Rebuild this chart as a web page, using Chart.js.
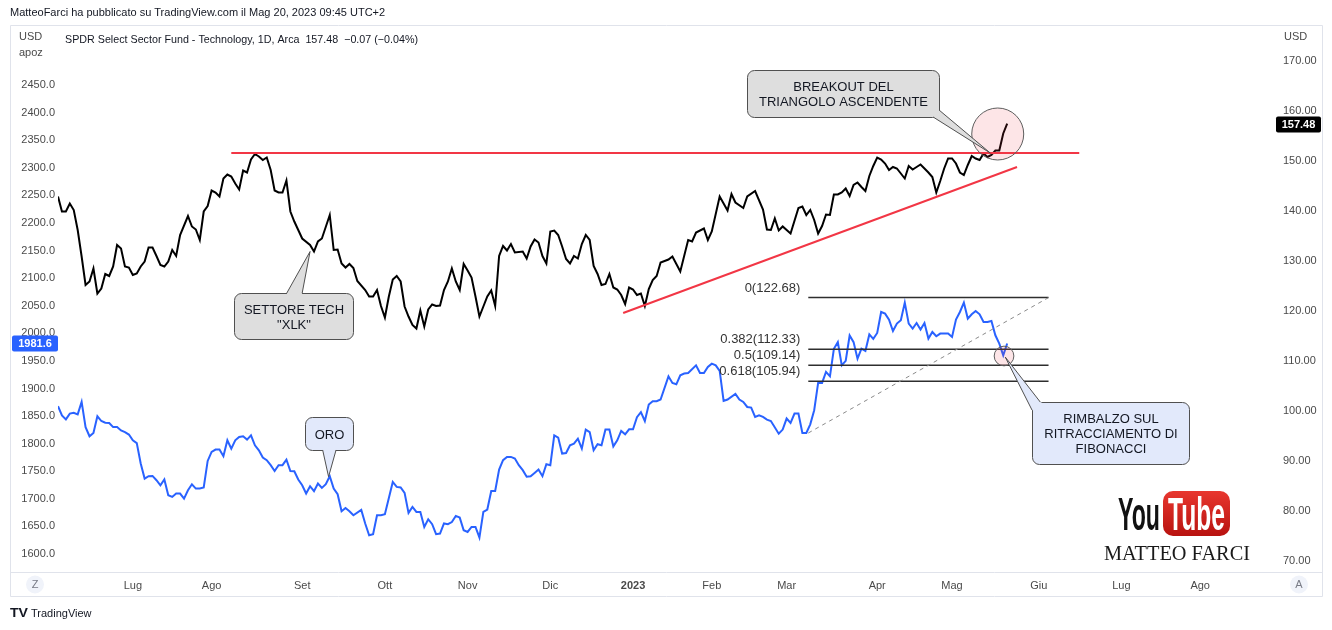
<!DOCTYPE html>
<html>
<head>
<meta charset="utf-8">
<script src="https://cdn.jsdelivr.net/npm/chart.js@4.4.0/dist/chart.umd.min.js"></script>
<style>
  html, body { margin: 0; padding: 0; background: #fff; }
  #wrap { width: 1332px; height: 630px; }
</style>
</head>
<body>
<div id="wrap"><canvas id="myChart" width="1332" height="630"></canvas></div>
<script>
// sessions counted from the first bar on the chart (early June 2022)
const xlkBars = [0,1,2,3,4,5,6,7,8,9,10,11,12,13,14,15,16,17,18,19,20,21,22,23,24,25,26,27,28,29,30,31,
  33,34,35,36,37,38,39,40,41,42,43,44,45,46,47,48,49,50,51,52,53,54,55,56,57,58,59,60,61,62,
  64,65,66,67,
  69,70,71,72,73,74,75,76,
  78,79,80,81,82,83,84,85,86,87,88,89,90,91,92,93,94,95,96,97,98,99,100,101,102,103,104,105,106,107,108,109,110,111,112,113,114,115,116,
  118,119,120,121,122,123,124,125,126,127,128,129,130,131,132,133,134,135,136,137,138,139,140,141,142,143,144,145,146,147,148,149,150,151,152,153,
  155,156,158,160,161,162,164,165,166,168,170,171,172,174,175,177,179,180,181,182,183,184,186,
  188,189,190,191,192,193,194,195,196,197,198,199,200,201,202,203,204,205,206,207,208,209,210,211,212,213,214,215,216,217,218,219,220,221,
  222,223,224,225,226,227,228,229,230,231,232,233,234,235,236,237,238,239,240,241];
const xlkClose = [142.9,139.9,139.9,141.5,140.2,136.2,130.9,125.2,125.9,128.5,123.5,124.5,127.4,127.0,128.9,133.2,132.5,128.9,128.7,127.2,127.5,128.9,129.9,132.7,132.7,131.0,129.2,128.9,129.9,132.2,131.0,135.2,
  139.0,136.9,136.3,134.2,139.9,141.0,144.1,143.7,142.9,146.5,147.3,146.9,145.5,144.3,148.1,147.7,150.3,151.4,150.9,150.2,150.7,148.2,144.1,143.7,143.7,146.1,139.9,137.9,136.2,134.5,
  133.2,131.9,133.9,134.5,
  139.2,132.2,132.3,129.5,128.7,129.4,128.6,126.0,
  124.2,122.9,122.9,124.2,121.0,118.7,122.9,126.3,127.0,125.9,120.9,118.9,117.2,116.5,120.1,116.9,120.3,121.3,121.0,121.1,124.2,125.9,128.5,125.9,124.2,129.4,128.1,126.7,122.9,118.9,120.9,122.9,124.1,121.0,131.0,133.0,132.1,133.4,131.7,
  131.9,130.5,132.9,134.3,133.7,131.0,129.5,135.9,136.1,135.2,132.9,130.4,129.5,131.0,130.5,133.4,135.2,134.2,129.0,127.4,125.2,125.4,127.4,124.7,124.3,123.2,121.4,124.7,124.3,123.2,123.5,121.0,124.4,126.2,127.0,129.7,
  130.3,130.9,127.9,134.2,133.9,135.7,136.5,134.2,135.9,142.9,140.1,143.4,141.7,140.6,142.9,144.0,140.3,136.3,136.2,138.5,136.1,136.9,135.5,
  140.6,140.9,139.2,140.2,138.2,135.5,137.0,139.3,139.2,143.3,143.3,143.7,144.5,143.0,145.2,145.7,144.8,144.0,147.0,149.0,150.7,150.3,149.5,148.2,148.8,148.5,147.5,146.5,149.0,148.3,148.8,149.3,148.5,147.7,
  146.8,143.7,146.0,148.5,150.5,150.5,149.5,147.7,147.2,149.2,151.0,150.5,150.2,151.5,150.8,151.2,152.1,152.1,155.5,157.48];

const goldBars = [0,1,2,3,4,5,6,7,8,9,10,11,12,13,14,15,16,17,18,19,20,21,22,23,24,25,26,27,28,29,30,31,32,33,34,35,36,37,38,39,
  40,41,42,43,44,45,46,47,48,49,50,51,52,53,54,55,56,57,58,59,60,61,62,63,64,65,66,67,68,69,70,71,72,73,74,75,
  77,78,79,80,81,82,83,
  85,86,87,88,89,90,91,92,93,94,95,96,97,98,99,100,101,102,103,104,105,106,107,108,109,110,111,112,113,114,115,116,117,118,119,
  120,121,122,123,124,125,126,127,128,129,130,131,132,133,134,135,136,137,138,139,140,141,142,143,144,145,146,147,148,149,150,151,152,153,
  155,156,157,158,159,160,
  162,163,164,165,166,167,168,169,170,
  172,173,174,175,176,177,178,179,180,181,
  183,184,185,186,187,188,189,190,191,192,193,194,195,196,197,198,199,200,201,202,203,204,205,206,207,208,209,210,211,212,213,214,215,216,217,218,219,220,221,222,223,224,
  226,227,228,229,230,231,232,233,234,235,236,237,238,239,240,241];
const goldClose = [1868,1851,1844,1854.5,1856,1853,1875.6,1830,1813.4,1819.4,1849.6,1841,1838,1837.5,1830,1830,1824,1821,1816.5,1806,
  1801,1764,1736.7,1741,1741.5,1733.7,1724.6,1735,1706.5,1703.4,1709.6,1709.6,1700.5,1715.6,1726.4,1718.6,1718.6,1720.5,1768.7,1785,
  1789.3,1789.3,1777.2,1806.2,1791,1806,1812,1813.4,1807.4,1815,1797,1788,1774.8,1770,1761,1750.5,1761,1761,1771,1750.5,
  1750,1735,1724.6,1709.6,1722.8,1713.8,1727.7,1719.8,1726.4,1741,1718.6,1708.3,1677.5,1683.5,1677.5,1670.3,
  1680,1655.3,1634,1636,1670.3,1670.3,1672,
  1730.6,1721.6,1720.5,1710.7,1674.5,1685.3,1676.3,1676.3,1649,1663,1654,1636,1637,1655.3,1654,1658,1669,1666,1643,1640,1649,1649,1630,1676.3,1680.6,1714.3,1714.3,1753,1770,1776,1776,1773,1761,1752,1740,
  1741,1747,1753,1741,1762.7,1761,1815,1811,1782,1783,1797,1800,1809,1791,1825.5,1821,1788,1799,1797,1825.5,1825.5,1795,1806,1823,1817,1826,1826,1848,1857,1841,1871,1877,1877,1880,
  1922,1910,1907.6,1924,1927,1928,
  1942,1928,1928,1939,1945,1942,1932,1877.4,1880,
  1890,1880,1875.6,1866.5,1865.4,1848.4,1851.4,1848.4,1843.6,1841,
  1818,1825.5,1845.5,1837.5,1854.5,1854.5,1819.4,1819.4,1835,1860.5,1910,1910,1930,1922,1972,1984,1942,1950,1996,1984,1954,1972,1968,1998,1990,2000.6,2038.6,2035.7,2024.8,2004,2017.6,2023.6,2055.6,2017.6,2008.5,2018.7,2006.7,2018.7,1990.4,2002.4,1994.6,1999.5,
  1999.5,1993.3,2024.8,2038.6,2055.6,2026.6,2034.4,2040.4,2034.4,2020.5,2020.5,2022.3,1996.4,1981.3,1960,1981.6];

const monthTicks = [19, 39, 62, 83, 104, 125, 146, 166, 185, 208, 227, 249, 270, 290];
const monthLabels = ['Lug', 'Ago', 'Set', 'Ott', 'Nov', 'Dic', '2023', 'Feb', 'Mar', 'Apr', 'Mag', 'Giu', 'Lug', 'Ago'];
const leftTicks = [1600, 1650, 1700, 1750, 1800, 1850, 1900, 1950, 2000, 2050, 2100, 2150, 2200, 2250, 2300, 2350, 2400, 2450];
const rightTicks = [70, 80, 90, 100, 110, 120, 130, 140, 150, 160, 170];

// drawings, in (session, price) units
const resistance = [[44.0, 151.6], [259.3, 151.6]];
const trendline = [[143.5, 119.6], [243.5, 148.8]];
const fibRange = [190.5, 251.5];
const fibLabels = ['0', '0.382', '0.5', '0.618'];
const fibValues = [122.68, 112.33, 109.14, 105.94];
const fibDiagonal = [[190.5, 95.6], [251.5, 122.68]];
const circles = [{ x: 238.6, y: 155.4, r: 6.6 }, { x: 240.2, y: 111.0, r: 2.5 }];
const callouts = [
  { axis: 'yR', lines: ['BREAKOUT DEL', 'TRIANGOLO ASCENDENTE'], fill: '#dedede',
    box: [175.0, 223.7, 168.2, 158.8], base: [[222.2, 158.8], [223.7, 160.2]], tip: [236.7, 151.6] },
  { axis: 'yR', lines: ['SETTORE TECH', '"XLK"'], fill: '#dedede',
    box: [44.7, 74.9, 123.6, 114.4], base: [[58.1, 123.6], [62.0, 123.6]], tip: [64.0, 131.9] },
  { axis: 'yL', lines: ['ORO'], fill: '#e2e9fb',
    box: [62.7, 74.9, 1848.3, 1788.5], base: [[67.2, 1788.5], [70.6, 1788.5]], tip: [68.7, 1740.1] },
  { axis: 'yR', lines: ['RIMBALZO SUL', 'RITRACCIAMENTO DI', 'FIBONACCI'], fill: '#e2e9fb',
    box: [247.3, 287.2, 101.8, 89.4], base: [[249.4, 101.8], [247.3, 100.2]], tip: [240.5, 110.8] }
];
const lastXlk = 157.48;
const lastGold = 1981.6;

const FONT = '"Liberation Sans", Arial, sans-serif';
const TXT = '#131722';
Chart.defaults.font.family = FONT;

const toPoints = (xs, ys) => xs.map((x, i) => ({ x: x, y: ys[i] }));
const segment = pts => pts.map(p => ({ x: p[0], y: p[1] }));
const drawLine = (pts, color, width, dash) => ({
  data: segment(pts), yAxisID: 'yR', borderColor: color, borderWidth: width,
  borderDash: dash || [], pointRadius: 0, order: 0
});

const datasets = [
  { label: 'XLK', data: toPoints(xlkBars, xlkClose), yAxisID: 'yR', borderColor: '#000', borderWidth: 2, pointRadius: 0, order: 1 },
  { label: 'Oro', data: toPoints(goldBars, goldClose), yAxisID: 'yL', borderColor: '#2962ff', borderWidth: 2, pointRadius: 0, order: 1 },
  drawLine(resistance, '#f23645', 2),
  drawLine(trendline, '#f23645', 2),
  drawLine(fibDiagonal, '#8a8a8a', 1, [4, 4])
];
fibValues.forEach(v => datasets.push(drawLine([[fibRange[0], v], [fibRange[1], v]], '#2e2e2e', 1.5)));

function textFit(ctx, str, x, y, font, width) {
  ctx.save();
  ctx.font = font;
  const w = ctx.measureText(str).width;
  ctx.translate(x, y);
  ctx.scale(width / w, 1);
  ctx.fillText(str, 0, 0);
  ctx.restore();
}

function drawCallout(ctx, c, xs, ys) {
  const X = v => xs.getPixelForValue(v), Y = v => ys.getPixelForValue(v);
  const x1 = Math.round(X(c.box[0])) + 0.5, x2 = Math.round(X(c.box[1])) + 0.5;
  const y1 = Math.round(Y(c.box[2])) + 0.5, y2 = Math.round(Y(c.box[3])) + 0.5;
  const b = c.base.map(p => [X(p[0]), Y(p[1])]);
  const t = [X(c.tip[0]), Y(c.tip[1])];
  ctx.save();
  ctx.fillStyle = c.fill;
  ctx.strokeStyle = '#505050';
  ctx.lineWidth = 1;
  ctx.beginPath();
  ctx.roundRect(x1, y1, x2 - x1, y2 - y1, 7);
  ctx.fill();
  ctx.stroke();
  const cx = (x1 + x2) / 2, cy = (y1 + y2) / 2;
  const inner = b.map(p => {
    const dx = cx - p[0], dy = cy - p[1], d = Math.hypot(dx, dy);
    return [p[0] + dx / d * 3, p[1] + dy / d * 3];
  });
  ctx.beginPath();
  ctx.moveTo(inner[0][0], inner[0][1]);
  ctx.lineTo(b[0][0], b[0][1]);
  ctx.lineTo(t[0], t[1]);
  ctx.lineTo(b[1][0], b[1][1]);
  ctx.lineTo(inner[1][0], inner[1][1]);
  ctx.closePath();
  ctx.fill();
  ctx.beginPath();
  ctx.moveTo(b[0][0], b[0][1]);
  ctx.lineTo(t[0], t[1]);
  ctx.lineTo(b[1][0], b[1][1]);
  ctx.stroke();
  ctx.fillStyle = TXT;
  ctx.font = '13px ' + FONT;
  ctx.textAlign = 'center';
  ctx.textBaseline = 'middle';
  const lh = 15;
  c.lines.forEach((s, i) => ctx.fillText(s, cx, cy + (i - (c.lines.length - 1) / 2) * lh + 1));
  ctx.restore();
}

const tvDrawings = {
  id: 'tvDrawings',
  beforeDraw(chart) {
    const ctx = chart.ctx;
    ctx.save();
    ctx.fillStyle = '#fff';
    ctx.fillRect(0, 0, chart.width, chart.height);
    ctx.restore();
  },
  afterDatasetsDraw(chart) {
    const ctx = chart.ctx, xs = chart.scales.x, yR = chart.scales.yR;
    const a = chart.chartArea;
    ctx.save();
    ctx.beginPath();
    ctx.rect(a.left, a.top, a.right - a.left, a.bottom - a.top);
    ctx.clip();
    // circles
    circles.forEach(c => {
      const r = xs.getPixelForValue(c.x + c.r) - xs.getPixelForValue(c.x);
      ctx.beginPath();
      ctx.arc(xs.getPixelForValue(c.x), yR.getPixelForValue(c.y), r, 0, Math.PI * 2);
      ctx.fillStyle = 'rgba(242, 54, 69, 0.13)';
      ctx.fill();
      ctx.strokeStyle = '#5e5e5e';
      ctx.lineWidth = 1;
      ctx.stroke();
    });
    // fib labels
    ctx.fillStyle = '#333';
    ctx.font = '13px ' + FONT;
    ctx.textAlign = 'right';
    ctx.textBaseline = 'bottom';
    fibValues.forEach((v, i) => {
      ctx.fillText(fibLabels[i] + '(' + v.toFixed(2) + ')', xs.getPixelForValue(fibRange[0]) - 8, yR.getPixelForValue(v) - 3);
    });
    callouts.forEach(c => drawCallout(ctx, c, xs, chart.scales[c.axis]));
    ctx.restore();
  },
  afterDraw(chart) {
    const ctx = chart.ctx, yR = chart.scales.yR, yL = chart.scales.yL;
    ctx.save();
    // pane frame
    ctx.strokeStyle = '#e0e3eb';
    ctx.lineWidth = 1;
    ctx.beginPath();
    ctx.moveTo(10.5, 25.5); ctx.lineTo(1322.5, 25.5);
    ctx.moveTo(10.5, 25.5); ctx.lineTo(10.5, 596.5);
    ctx.moveTo(1322.5, 25.5); ctx.lineTo(1322.5, 596.5);
    ctx.moveTo(10.5, 572.5); ctx.lineTo(1322.5, 572.5);
    ctx.moveTo(10.5, 596.5); ctx.lineTo(1322.5, 596.5);
    ctx.stroke();

    ctx.fillStyle = TXT;
    ctx.textBaseline = 'middle';
    ctx.textAlign = 'left';
    ctx.font = '11px ' + FONT;
    ctx.fillText('MatteoFarci ha pubblicato su TradingView.com il Mag 20, 2023 09:45 UTC+2', 10, 13);
    textFit(ctx, 'SPDR Select Sector Fund - Technology, 1D, Arca  157.48  \u22120.07 (\u22120.04%)', 65, 40, '11px ' + FONT, 353);
    ctx.fillStyle = '#4a4a4a';
    ctx.fillText('USD', 19, 37);
    ctx.fillText('apoz', 19, 53);
    ctx.fillText('USD', 1284, 37);

    // last price tags
    const tag = (x, w, y, bg, s) => {
      ctx.fillStyle = bg;
      ctx.beginPath();
      ctx.roundRect(x, Math.round(y) - 7.5, w, 16, 2);
      ctx.fill();
      ctx.fillStyle = '#fff';
      ctx.textAlign = 'center';
      ctx.font = 'bold 11px ' + FONT;
      ctx.fillText(s, x + w / 2, Math.round(y) + 0.5);
    };
    tag(1276, 45, yR.getPixelForValue(lastXlk), '#000', lastXlk.toFixed(2));
    tag(12, 46, yL.getPixelForValue(lastGold), '#2962ff', lastGold.toFixed(1));

    // Z / A buttons
    [[35, 'Z'], [1299, 'A']].forEach(b => {
      ctx.beginPath();
      ctx.arc(b[0], 584.5, 9, 0, Math.PI * 2);
      ctx.fillStyle = '#f0f3fa';
      ctx.fill();
      ctx.fillStyle = '#787b86';
      ctx.font = '11px ' + FONT;
      ctx.textAlign = 'center';
      ctx.fillText(b[1], b[0], 585);
    });

    // footer
    ctx.textAlign = 'left';
    ctx.fillStyle = TXT;
    textFit(ctx, 'TV', 10, 614, 'bold 12px ' + FONT, 18);
    ctx.font = '11px ' + FONT;
    ctx.fillText('TradingView', 31, 614);

    // YouTube mark
    ctx.textBaseline = 'alphabetic';
    ctx.fillStyle = '#111';
    textFit(ctx, 'You', 1118, 530, 'bold 46px ' + FONT, 42);
    const g = ctx.createLinearGradient(0, 491, 0, 536);
    g.addColorStop(0, '#e8372f');
    g.addColorStop(1, '#b8120f');
    ctx.fillStyle = g;
    ctx.beginPath();
    ctx.roundRect(1163, 491, 67, 45, 10);
    ctx.fill();
    ctx.fillStyle = '#fff';
    textFit(ctx, 'Tube', 1168, 530, 'bold 46px ' + FONT, 57);
    ctx.fillStyle = '#1a1a1a';
    textFit(ctx, 'MATTEO FARCI', 1104, 560, '21px "Liberation Serif", "DejaVu Serif", serif', 146);
    ctx.restore();
  }
};

const ctx = document.getElementById('myChart').getContext('2d');
const myChart = new Chart(ctx, {
  type: 'line',
  data: { datasets: datasets },
  options: {
    responsive: false,
    devicePixelRatio: 1,
    animation: false,
    events: [],
    layout: { padding: { left: 10, right: 9, top: 25, bottom: 34 } },
    elements: { line: { tension: 0 } },
    plugins: { legend: { display: false }, tooltip: { enabled: false } },
    scales: {
      x: {
        type: 'linear', position: 'bottom', min: 0, max: 309,
        grid: { display: false, drawTicks: false }, border: { display: false },
        afterBuildTicks: s => { s.ticks = monthTicks.map(v => ({ value: v })); },
        afterFit: s => { s.height = 24; },
        ticks: {
          autoSkip: false, maxRotation: 0, padding: 7, color: '#4a4a4a',
          font: c => ({ size: 11, weight: c.tick && c.tick.label === '2023' ? 'bold' : 'normal' }),
          callback: v => monthLabels[monthTicks.indexOf(v)]
        }
      },
      yL: {
        type: 'linear', position: 'left', min: 1567.4, max: 2558.7,
        grid: { display: false, drawTicks: false }, border: { display: false },
        afterBuildTicks: s => { s.ticks = leftTicks.map(v => ({ value: v })); },
        afterFit: s => { s.width = 48; },
        ticks: { padding: 3, color: '#4a4a4a', font: { size: 11 }, callback: v => v.toFixed(1) }
      },
      yR: {
        type: 'linear', position: 'right', min: 67.8, max: 177.2,
        grid: { display: false, drawTicks: false }, border: { display: false },
        afterBuildTicks: s => { s.ticks = rightTicks.map(v => ({ value: v })); },
        afterFit: s => { s.width = 48; },
        ticks: { padding: 8, color: '#4a4a4a', font: { size: 11 }, callback: v => v.toFixed(2) }
      }
    }
  },
  plugins: [tvDrawings]
});
</script>
</body>
</html>
